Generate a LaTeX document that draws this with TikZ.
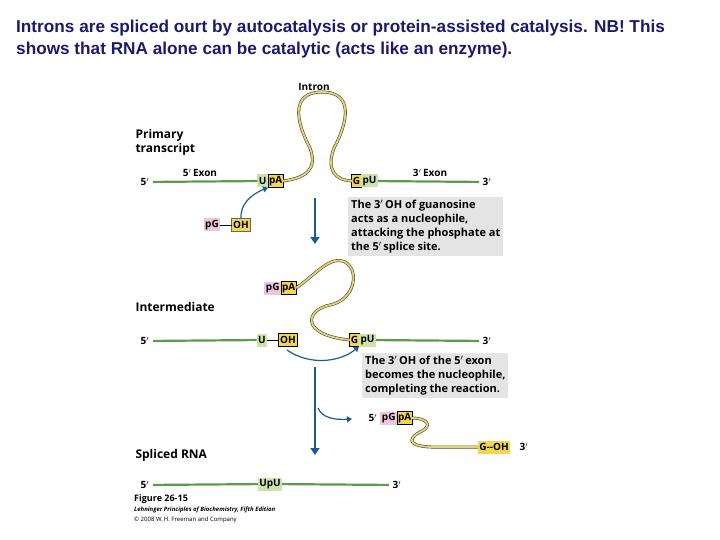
\documentclass[tikz,border=0pt]{standalone}
\usepackage{fontspec}
\setmainfont{Liberation Sans}
\newfontfamily\lab{Open Sans}
\usetikzlibrary{arrows.meta}
\definecolor{exg}{HTML}{5E9A4E}
\definecolor{intr}{HTML}{E8D26A}
\definecolor{lgreen}{HTML}{CFE3A8}
\definecolor{ybox}{HTML}{F2D652}
\definecolor{pinkb}{HTML}{EBC6DC}
\definecolor{grayb}{HTML}{E4E4E4}
\definecolor{arrb}{HTML}{1F5A96}
\definecolor{titlec}{HTML}{1A1A6E}
\tikzset{
 exon/.style={draw=exg,line width=2.2pt},
 intron/.style={draw=black!70,line width=3pt},
 intronin/.style={draw=intr,line width=1.8pt},
 bx/.style={inner sep=1.5pt,outer sep=0pt,font=\lab\bfseries\fontsize{10}{10}\selectfont,minimum height=13pt},
 gb/.style={bx,fill=lgreen},
 yb/.style={bx,fill=ybox,draw=black,line width=0.6pt},
 pb/.style={bx,fill=pinkb},
 sm/.style={font=\lab\bfseries\fontsize{10}{10}\selectfont},
 lbl/.style={font=\lab\bfseries\fontsize{12}{14}\selectfont,anchor=west,align=left},
 note/.style={fill=grayb,font=\lab\bfseries\fontsize{11}{14}\selectfont,align=left,anchor=north west,inner sep=3pt},
 bigarr/.style={draw=arrb,line width=2pt,-{Triangle[length=7pt,width=9pt]}},
 smarr/.style={draw=arrb,line width=1.2pt,-{Triangle[length=5pt,width=6pt]}},
}
\begin{document}
\begin{tikzpicture}[x=1pt,y=-1pt]
\useasboundingbox (0,0) rectangle (720,540);
\node[anchor=north west,align=left,text=titlec,font=\bfseries\fontsize{17.2}{21.5}\selectfont,inner sep=0] (title) at (16,20) {Introns are spliced ourt by autocatalysis or protein-assisted catalysis. NB! This\\ shows that RNA alone can be catalytic (acts like an enzyme).};
% Primary transcript
\node[lbl] (pt) at (132,142) {Primary\\transcript};
\node[sm] (intronlbl) at (314,87) {Intron};
\node[sm] (p5a) at (145,182) {5$'$};
\node[sm] (p3a) at (487,182) {3$'$};
\node[sm] (ex5) at (200,173) {5$'$\,Exon};
\node[sm] (ex3) at (430,173) {3$'$\,Exon};
\node[gb,anchor=east] (u1) at (268,181) {U};
\node[yb,anchor=west,inner sep=1pt] (pa1) at (268,181) {pA};
\node[yb,anchor=east,inner sep=1pt] (g1) at (361,181) {G};
\node[gb,anchor=west] (pu1) at (361,181) {pU};
\draw[exon] (p5a) -- (u1);
\draw[exon] (pu1) -- (p3a);
\foreach \s in {intron,intronin}
 \draw[\s] (pa1.east) .. controls (305,178) and (318,170) .. (310,148) .. controls (296,122) and (290,92) .. (322,92) .. controls (354,92) and (348,122) .. (334,148) .. controls (326,170) and (335,180) .. (g1.west);
\node[pb] (pg1) at (212,225) {pG};
\node[yb,fill=ybox,draw=black!60] (oh1) at (241,225) {OH};
\draw[line width=0.8pt] (pg1) -- (oh1);
\draw[smarr] (oh1.north) .. controls (240,205) and (250,195) .. (u1.south east);
\coordinate (a1s) at (315,198); \coordinate (a1e) at (315,244);
\draw[bigarr] (a1s) -- (a1e);
\node[note] (n1) at (348,197) {The 3$'$\,OH of guanosine\\acts as a nucleophile,\\attacking the phosphate at\\the 5$'$\,splice site.};
% Intermediate
\node[lbl] (im) at (132,307) {Intermediate};
\node[sm] (p5b) at (145,341) {5$'$};
\node[sm] (p3b) at (487,341) {3$'$};
\node[gb] (u2) at (262,340) {U};
\node[yb] (oh2) at (288,340) {OH};
\draw[line width=0.8pt] (u2) -- (oh2);
\node[yb,anchor=east,inner sep=1pt] (g2) at (359,340) {G};
\node[gb,anchor=west] (pu2) at (359,340) {pU};
\draw[exon] (p5b) -- (u2);
\draw[exon] (pu2) -- (p3b);
\node[pb,anchor=east] (pg2) at (281,288) {pG};
\node[yb,anchor=west,inner sep=1pt] (pa2) at (281,288) {pA};
\foreach \s in {intron,intronin}
 \draw[\s] (pa2.east) .. controls (315,275) and (330,255) .. (345,262) .. controls (360,270) and (355,300) .. (330,305) .. controls (305,310) and (300,335) .. (g2.west);
\draw[smarr] (287,350) .. controls (310,366) and (340,362) .. (pu2.south west);
\coordinate (a2s) at (315,367); \coordinate (a2e) at (315,455);
\draw[bigarr] (a2s) -- (a2e);
\draw[smarr] (318,408) .. controls (322,418) and (335,420) .. (352,419);
\node[note] (n2) at (362,353) {The 3$'$\,OH of the 5$'$\,exon\\becomes the nucleophile,\\completing the reaction.};
\node[sm] (p5c) at (373,418) {5$'$};
\node[pb,anchor=east] (pg3) at (397,418) {pG};
\node[yb,anchor=west,inner sep=1pt] (pa3) at (397,418) {pA};
\node[yb,draw=none] (goh) at (494,447) {G--OH};
\node[sm] (p3c) at (524,447) {3$'$};
\foreach \s in {intron,intronin}
 \draw[\s] (pa3.east) .. controls (425,418) and (435,425) .. (420,432) .. controls (405,440) and (410,448) .. (440,447) -- (goh.west);
% Spliced
\node[lbl] (sp) at (132,455) {Spliced RNA};
\node[sm] (p5d) at (145,485) {5$'$};
\node[sm] (p3d) at (397,485) {3$'$};
\node[gb] (upu) at (270,484) {UpU};
\draw[exon] (p5d) -- (upu);
\draw[exon] (upu) -- (p3d);
\node[lbl,font=\lab\bfseries\fontsize{9}{9}\selectfont,inner sep=0] (fig) at (134,499) {Figure 26-15};
\node[lbl,font=\lab\itshape\bfseries\fontsize{6}{6}\selectfont,inner sep=0] (book) at (134,510) {Lehninger Principles of Biochemistry, Fifth Edition};
\node[lbl,font=\lab\fontsize{6}{6}\selectfont,inner sep=0] (copy) at (134,520) {\textcopyright{} 2008 W.\,H. Freeman and Company};
\end{tikzpicture}
\end{document}
